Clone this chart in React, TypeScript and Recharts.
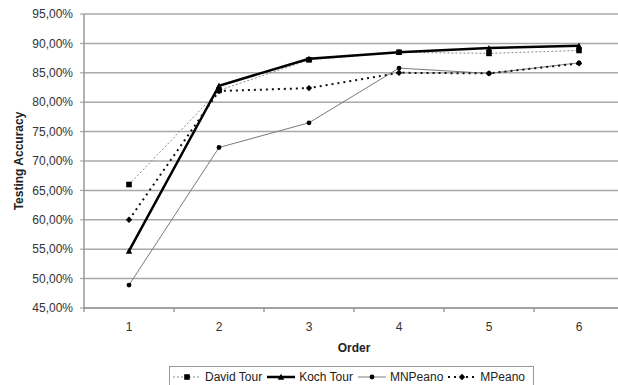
import React from "react"
import { LineChart, Line, XAxis, YAxis, CartesianGrid, Legend } from "recharts"

const orders = [1, 2, 3, 4, 5, 6]
const davidTour = [66.0, 82.0, 87.2, 88.5, 88.3, 88.8]
const kochTour = [54.7, 82.8, 87.4, 88.5, 89.2, 89.6]
const mnPeano = [48.9, 72.3, 76.5, 85.8, 84.9, 86.7]
const mPeano = [60.0, 81.9, 82.4, 85.0, 84.9, 86.6]
const yTicks = [45, 50, 55, 60, 65, 70, 75, 80, 85, 90, 95]
const xTicks = [0.5, 1, 1.5, 2, 2.5, 3, 3.5, 4, 4.5, 5, 5.5, 6, 6.5]

const data = orders.map((o, i) => ({
  order: o,
  david: davidTour[i],
  koch: kochTour[i],
  mn: mnPeano[i],
  mp: mPeano[i],
}))

const FONT = "'Liberation Sans', Arial, sans-serif"

type Shape = "square" | "triangle" | "dot" | "diamond"

function Marker({ cx, cy, shape }: { cx: number; cy: number; shape: Shape }) {
  if (cx == null || cy == null) return null
  if (shape === "square") return <rect x={cx - 2.8} y={cy - 2.8} width={5.6} height={5.6} fill="#000" />
  if (shape === "triangle")
    return <path d={`M${cx},${cy - 3.2} L${cx + 3.2},${cy + 2.8} L${cx - 3.2},${cy + 2.8} Z`} fill="#000" />
  if (shape === "diamond")
    return <path d={`M${cx},${cy - 3.2} L${cx + 3.2},${cy} L${cx},${cy + 3.2} L${cx - 3.2},${cy} Z`} fill="#000" />
  return <circle cx={cx} cy={cy} r={2.4} fill="#000" />
}

const series = [
  { key: "david", name: "David Tour", stroke: "#8a8a8a", width: 1, dash: "2 2", shape: "square" as Shape },
  { key: "koch", name: "Koch Tour", stroke: "#000", width: 2.5, dash: undefined, shape: "triangle" as Shape },
  { key: "mn", name: "MNPeano", stroke: "#7a7a7a", width: 1, dash: undefined, shape: "dot" as Shape },
  { key: "mp", name: "MPeano", stroke: "#111", width: 2, dash: "2 4", shape: "diamond" as Shape },
]

function XTick(props: any) {
  const { x, y, payload } = props
  const v = payload.value
  if (Number.isInteger(v)) {
    return (
      <text x={x} y={y + 19} textAnchor="middle" dominantBaseline="central" fontSize={12} fill="#333" fontFamily={FONT}>
        {v}
      </text>
    )
  }
  return <line x1={x} y1={y} x2={x} y2={y + 4} stroke="#888" strokeWidth={1.2} />
}

function LegendBox() {
  return (
    <div
      style={{
        display: "flex",
        alignItems: "center",
        border: "1px solid #999",
        background: "#fff",
        padding: "3px 4px 3px 2px",
        fontFamily: FONT,
        fontSize: 12,
        color: "#222",
        whiteSpace: "nowrap",
      }}
    >
      {series.map((s) => (
        <div key={s.key} style={{ display: "flex", alignItems: "center", marginRight: 4 }}>
          <svg width={30} height={10} style={{ marginRight: 3 }}>
            <line x1={1} y1={5} x2={29} y2={5} stroke={s.stroke} strokeWidth={s.width} strokeDasharray={s.dash} />
            <Marker cx={15} cy={5} shape={s.shape} />
          </svg>
          <span>{s.name}</span>
        </div>
      ))}
    </div>
  )
}

export default function App() {
  return (
    <div style={{ position: "absolute", left: 0, top: 0, width: 618, height: 385, overflow: "hidden", background: "#fff" }}>
      <LineChart width={640} height={400} data={data} margin={{ top: 14, right: 16, left: 0, bottom: 42 }}>
        <CartesianGrid horizontal vertical={false} stroke="#a8a8a8" strokeWidth={1.5} />
        <XAxis
          dataKey="order"
          type="number"
          domain={[0.5, 6.5]}
          ticks={xTicks}
          interval={0}
          tickLine={false}
          tickSize={0}
          tickMargin={0}
          axisLine={{ stroke: "#999", strokeWidth: 1.5 }}
          tick={<XTick />}
          height={50}
          label={{
            value: "Order",
            position: "insideBottom",
            offset: 6,
            style: { fontFamily: FONT, fontSize: 12, fontWeight: "bold", fill: "#222" },
          }}
        />
        <YAxis
          type="number"
          domain={[45, 95]}
          ticks={yTicks}
          interval={0}
          width={84}
          tickSize={4}
          tickMargin={7}
          tickLine={{ stroke: "#999" }}
          axisLine={{ stroke: "#999", strokeWidth: 1.5 }}
          tick={{ fontSize: 12, fill: "#333", fontFamily: FONT }}
          tickFormatter={(v: number) => `${v.toFixed(2).replace(".", ",")}%`}
          label={{
            content: (p: any) => {
              const vb = p.viewBox
              const cx = vb.x + 19
              const cy = vb.y + vb.height / 2
              return (
                <text
                  x={cx}
                  y={cy}
                  transform={`rotate(-90 ${cx} ${cy})`}
                  textAnchor="middle"
                  dominantBaseline="central"
                  fontFamily={FONT}
                  fontSize={12}
                  fontWeight="bold"
                  fill="#222"
                >
                  Testing Accuracy
                </text>
              )
            },
          }}
        />
        <Legend
          layout="horizontal"
          verticalAlign="middle"
          align="center"
          content={<LegendBox />}
          wrapperStyle={{ top: 366, left: 169, width: "auto", height: "auto" }}
        />
        {series.map((s) => (
          <Line
            key={s.key}
            dataKey={s.key}
            name={s.name}
            type="linear"
            stroke={s.stroke}
            strokeWidth={s.width}
            strokeDasharray={s.dash}
            dot={(p: any) => <Marker key={`${s.key}-${p.index}`} cx={p.cx} cy={p.cy} shape={s.shape} />}
            activeDot={false}
            isAnimationActive={false}
          />
        ))}
      </LineChart>
    </div>
  )
}
